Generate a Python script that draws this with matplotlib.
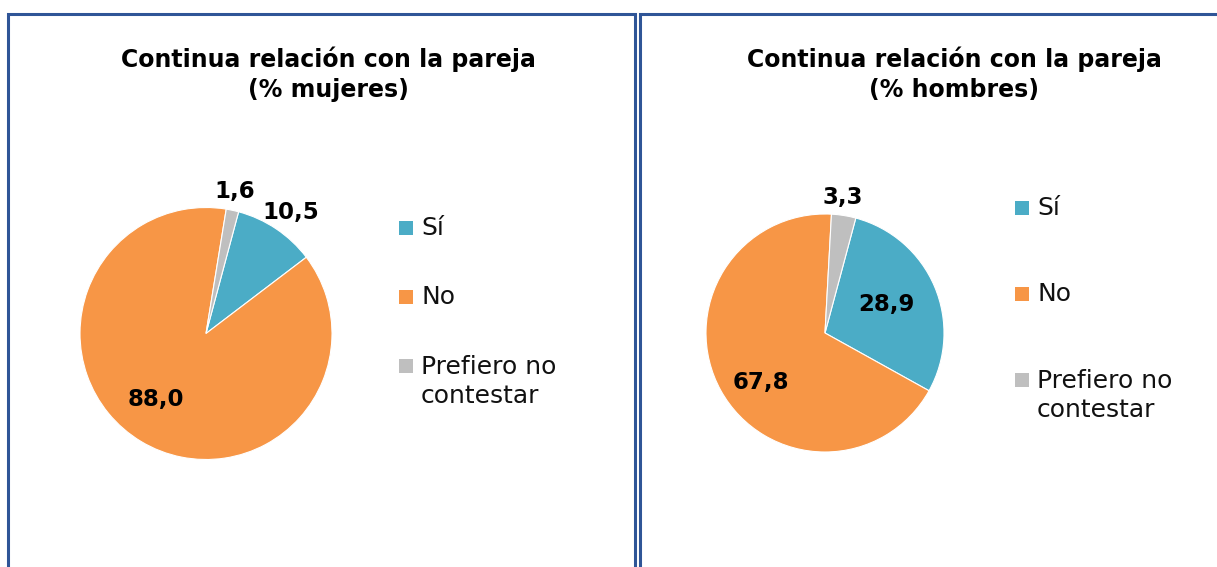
import matplotlib.pyplot as plt
from matplotlib.patches import Rectangle

# datos
categorias = ['Sí', 'No', 'Prefiero no\ncontestar']
mujeres = [10.5, 88.0, 1.6]
hombres = [28.9, 67.8, 3.3]
titulos = ['Continua relación con la pareja\n(% mujeres)',
           'Continua relación con la pareja\n(% hombres)']
colores = ['#4BACC6', '#F79646', '#BFBFBF']

# posiciones de las etiquetas (en radios del pastel)
pos_mujeres = [(0.67, 0.96), (-0.40, -0.52), (0.23, 1.13)]
pos_hombres = [(0.52, 0.24), (-0.54, -0.42), (0.15, 1.14)]

W, H = 1217, 567
plt.rcParams['font.family'] = ['DejaVu Sans']
fig = plt.figure(figsize=(W / 100, H / 100), dpi=100)


def px_ax(cx, cy, r):
    return fig.add_axes([(cx - r) / W, (H - cy - r) / H, 2 * r / W, 2 * r / H])


def marco(x0, x1):
    rect = Rectangle((x0 / W, -0.05), (x1 - x0) / W, (H - 14) / H + 0.05, transform=fig.transFigure,
                     fill=False, edgecolor='#2F5597', linewidth=2.2, clip_on=False)
    fig.add_artist(rect)


def panel(valores, posiciones, titulo, cx, cy, r, tx, lx, ly):
    ax = px_ax(cx, cy, r)
    # el primer sector empieza a 15 grados de la vertical (como en Excel)
    ax.pie(valores, colors=colores, startangle=75, counterclock=False,
           wedgeprops=dict(edgecolor='white', linewidth=0.8))
    ax.set_xlim(-1, 1)
    ax.set_ylim(-1, 1)
    for v, (x, y) in zip(valores, posiciones):
        ax.text(x, y, f'{v:.1f}'.replace('.', ','), ha='center', va='center',
                fontsize=16.5, fontweight='bold', color='black')
    fig.text(tx / W, 1 - 74 / H, titulo, ha='center', va='center', fontsize=17,
             fontweight='bold', linespacing=1.3)
    # leyenda
    for cat, col, y in zip(categorias, colores, ly):
        fig.patches.append(Rectangle((lx / W, 1 - (y + 7) / H), 14 / W, 14 / H,
                                     transform=fig.transFigure, facecolor=col,
                                     edgecolor='none'))
        yt = y + 15.5 if '\n' in cat else y
        fig.text((lx + 22) / W, 1 - yt / H, cat, ha='left', va='center',
                 fontsize=18, linespacing=1.3, color='#111111')


marco(8, 635)
marco(640, 1230)

panel(mujeres, pos_mujeres, titulos[0], 206, 333.5, 126, 328, 399, [228, 297, 366])
panel(hombres, pos_hombres, titulos[1], 825, 333, 119, 954, 1015, [208, 294, 380])

fig.savefig('out.png', dpi=100)
